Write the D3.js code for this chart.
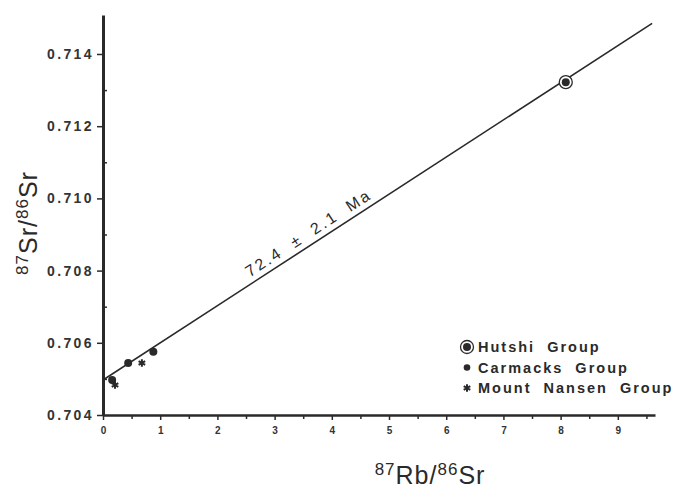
<!DOCTYPE html>
<html>
<head>
<meta charset="utf-8">
<script src="https://cdn.jsdelivr.net/npm/d3@7"></script>
<style>
  body { margin: 0; background: #fff; }
  svg { display: block; }
  .tick text { font-family: "Liberation Sans", Arial, sans-serif; font-weight: bold; fill: #333; }
</style>
</head>
<body>
<div id="chart"></div>
<script>
// isochron data
var hutshiX = [8.09];
var hutshiY = [0.71322];
var carmacksX = [0.16, 0.44, 0.88];
var carmacksY = [0.70497, 0.70544, 0.70575];
var nansenX = [0.21, 0.68];
var nansenY = [0.70483, 0.70544];

var intercept = 0.70497;
var slope = 0.001029;
var lineX = [0, 9.6];

var xTicks = [0, 1, 2, 3, 4, 5, 6, 7, 8, 9];
var xMinor = [0.5, 1.5, 2.5, 3.5, 4.5, 5.5, 6.5, 7.5, 8.5, 9.5];
var yTicks = [0.704, 0.706, 0.708, 0.710, 0.712, 0.714];
var yMinor = [0.705, 0.707, 0.709, 0.711, 0.713];
var legendNames = ["Hutshi Group", "Carmacks Group", "Mount Nansen Group"];
var ageLabel = "72.4 \u00b1 2.1 Ma";

var width = 681, height = 492;
var ink = "#2a2a2a";

var svg = d3.select("#chart").append("svg")
    .attr("width", width)
    .attr("height", height);

var x = d3.scaleLinear().domain([0, 9.65]).range([103, 655]);
var y = d3.scaleLinear().domain([0.704, 0.71508]).range([415, 15]);

// x axis
var xAxis = svg.append("g")
    .attr("transform", "translate(0," + y(0.704) + ")")
    .call(d3.axisBottom(x).tickValues(xTicks).tickSize(5).tickPadding(7)
        .tickFormat(d3.format("d")).tickSizeOuter(0));
xAxis.select(".domain").attr("stroke", ink).attr("stroke-width", 2.5);
xAxis.selectAll(".tick line").attr("stroke", ink).attr("stroke-width", 1.5);
xAxis.selectAll(".tick text").attr("font-size", 10);

var xMinorAxis = svg.append("g")
    .attr("transform", "translate(0," + y(0.704) + ")")
    .call(d3.axisBottom(x).tickValues(xMinor).tickSize(4).tickFormat(""));
xMinorAxis.select(".domain").remove();
xMinorAxis.selectAll(".tick line").attr("stroke", ink).attr("stroke-width", 1.5);

// y axis
var yAxis = svg.append("g")
    .attr("transform", "translate(" + x(0) + ",0)")
    .call(d3.axisLeft(y).tickValues(yTicks).tickSize(6).tickPadding(3)
        .tickFormat(d3.format(".3f")).tickSizeOuter(0));
yAxis.select(".domain").attr("stroke", ink).attr("stroke-width", 3);
yAxis.selectAll(".tick line").attr("stroke", ink).attr("stroke-width", 1.5);
yAxis.selectAll(".tick text").attr("font-size", 14).attr("letter-spacing", 2.4);

var yMinorAxis = svg.append("g")
    .attr("transform", "translate(" + x(0) + ",0)")
    .call(d3.axisRight(y).tickValues(yMinor).tickSize(4).tickFormat(""));
yMinorAxis.select(".domain").remove();
yMinorAxis.selectAll(".tick line").attr("stroke", ink).attr("stroke-width", 1.5);

// isochron line
svg.append("line")
    .attr("x1", x(lineX[0])).attr("y1", y(intercept + slope * lineX[0]))
    .attr("x2", x(lineX[1])).attr("y2", y(intercept + slope * lineX[1]))
    .attr("stroke", ink).attr("stroke-width", 1.6);

// age label along the line
var lx = 3.7;
var angle = Math.atan2(y(intercept) - y(intercept + slope), x(1) - x(0)) * 180 / Math.PI;
svg.append("text")
    .attr("transform", "translate(" + x(lx) + "," + y(intercept + slope * lx) + ") rotate(" + (-angle) + ")")
    .attr("y", -6)
    .attr("text-anchor", "middle")
    .attr("font-family", "Liberation Sans, Arial, sans-serif")
    .attr("font-size", 16)
    .attr("letter-spacing", 2.4)
    .attr("word-spacing", 6)
    .attr("fill", ink)
    .text(ageLabel);

// markers
function drawHutshi(g, cx, cy) {
    g.append("circle").attr("cx", cx).attr("cy", cy).attr("r", 6.5)
        .attr("fill", "#fff").attr("stroke", ink).attr("stroke-width", 1.3);
    g.append("circle").attr("cx", cx).attr("cy", cy).attr("r", 4).attr("fill", ink);
}
function drawCarmacks(g, cx, cy, r) {
    g.append("circle").attr("cx", cx).attr("cy", cy).attr("r", r).attr("fill", ink);
}
var star = d3.symbol().type(d3.symbolAsterisk).size(40);
function drawNansen(g, cx, cy) {
    g.append("path").attr("d", star)
        .attr("transform", "translate(" + cx + "," + cy + ")")
        .attr("fill", "none").attr("stroke", ink).attr("stroke-width", 2);
}

var pts = svg.append("g");
hutshiX.forEach(function(d, i) { drawHutshi(pts, x(d), y(hutshiY[i])); });
carmacksX.forEach(function(d, i) { drawCarmacks(pts, x(d), y(carmacksY[i]), 4); });
nansenX.forEach(function(d, i) { drawNansen(pts, x(d), y(nansenY[i])); });

// legend
var leg = svg.append("g").attr("transform", "translate(467,347)");
legendNames.forEach(function(name, i) {
    var ly = i * 20.5;
    if (i === 0) drawHutshi(leg, 0, ly);
    if (i === 1) drawCarmacks(leg, 0, ly, 3.3);
    if (i === 2) drawNansen(leg, 0, ly);
    leg.append("text")
        .attr("x", 11).attr("y", ly + 5)
        .attr("font-family", "Liberation Sans, Arial, sans-serif")
        .attr("font-weight", "bold")
        .attr("font-size", 14.5)
        .attr("letter-spacing", 2)
        .attr("word-spacing", 6)
        .attr("fill", ink)
        .text(name);
});

// axis titles with superscripts
function isotopeLabel(sel, m1, e1, m2, e2, size) {
    sel.append("tspan").attr("font-size", size * 0.68).attr("dy", -size * 0.38).text(m1);
    sel.append("tspan").attr("font-size", size).attr("dy", size * 0.38).text(e1 + "/");
    sel.append("tspan").attr("font-size", size * 0.68).attr("dy", -size * 0.38).text(m2);
    sel.append("tspan").attr("font-size", size).attr("dy", size * 0.38).text(e2);
}

var xt = svg.append("text")
    .attr("x", 430).attr("y", 484)
    .attr("text-anchor", "middle")
    .attr("font-family", "Liberation Sans, Arial, sans-serif")
    .attr("letter-spacing", 1)
    .attr("fill", ink);
isotopeLabel(xt, "87", "Rb", "86", "Sr", 25);

var yt = svg.append("text")
    .attr("transform", "translate(37,223) rotate(-90)")
    .attr("text-anchor", "middle")
    .attr("font-family", "Liberation Sans, Arial, sans-serif")
    .attr("letter-spacing", 1)
    .attr("fill", ink);
isotopeLabel(yt, "87", "Sr", "86", "Sr", 25);
</script>
</body>
</html>
